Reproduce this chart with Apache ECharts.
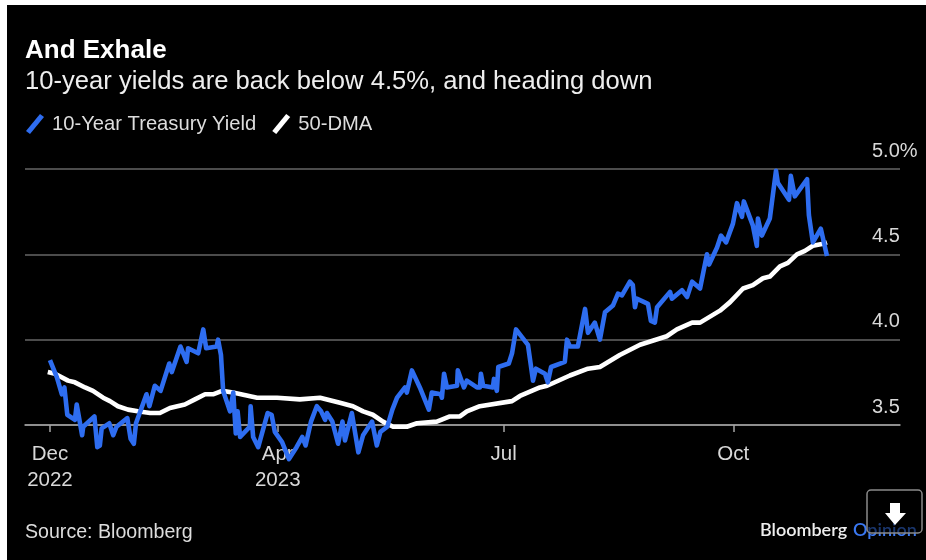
<!DOCTYPE html>
<html>
<head>
<meta charset="utf-8">
<style>html,body{margin:0;padding:0;background:#fff}#chart{width:926px;height:560px}</style>
<script src="https://cdn.jsdelivr.net/npm/echarts@6/dist/echarts.min.js"></script>
</head>
<body>
<div id="chart"></div>
<script>
// Trading-day position along the time axis, and the yield in percent at that position.
const yieldDays = [0,1.9,3.3,4,4.8,6.9,7.4,8.9,9.2,12.3,13.1,13.8,14.3,16.4,17.5,18.4,21.4,22.3,23.2,23.8,26.7,27.5,29,30.6,33,33.7,36.1,37.8,38.2,41,42.4,43.2,46.1,46.5,47.3,47.9,49.8,50.7,51.4,51.9,52.6,55.3,55.5,56.2,57.6,60.2,61.3,62.2,64.2,66.1,68.2,69.8,70.7,72.2,73.8,75,75.5,76.1,76.6,78.1,79.7,80.9,81.6,83.5,85.3,86.6,89.1,90.4,91.4,93.3,94.7,96,98.2,98.7,100.1,102.3,104.8,105.6,108.1,108.4,109,109.8,112.6,112.8,114.5,115.3,118.1,118.9,119.2,119.8,122.5,122.8,123.6,124,126.9,127.8,128.9,129.4,132.2,133.6,134.4,136.9,137.7,138.6,142.4,143,143.8,146,148,148.8,150.7,152.1,153.5,155.7,157.1,158.2,160.4,161.2,161.8,162.3,165.4,166.2,167.3,167.9,171.5,172,174.8,176.2,177.6,179.8,181.7,182.3,184.5,185,185.6,187,188.9,190,191.4,191.9,194.4,195.5,195.8,196.9,199.1,200.8,201.3,204.4,204.9,206,209.4,209.9,211,213.2,214.9];
const yieldValues = [3.88,3.78,3.68,3.72,3.56,3.53,3.62,3.44,3.49,3.55,3.37,3.38,3.48,3.51,3.44,3.49,3.54,3.42,3.39,3.51,3.68,3.61,3.73,3.7,3.86,3.81,3.96,3.87,3.95,3.92,4.06,3.95,3.96,4,3.91,3.7,3.58,3.69,3.45,3.58,3.43,3.49,3.61,3.43,3.37,3.57,3.56,3.46,3.4,3.3,3.37,3.43,3.38,3.52,3.61,3.58,3.59,3.53,3.57,3.52,3.39,3.52,3.41,3.57,3.34,3.44,3.52,3.38,3.46,3.49,3.59,3.66,3.72,3.69,3.82,3.72,3.59,3.69,3.68,3.66,3.8,3.72,3.73,3.82,3.72,3.76,3.72,3.72,3.8,3.73,3.72,3.77,3.7,3.84,3.86,3.92,4.06,4.07,3.97,3.76,3.83,3.8,3.75,3.84,3.87,4,3.96,3.96,4.18,4.04,4.1,4,4.16,4.2,4.27,4.26,4.34,4.32,4.19,4.24,4.21,4.11,4.1,4.19,4.28,4.24,4.29,4.25,4.34,4.3,4.5,4.44,4.54,4.54,4.61,4.57,4.68,4.8,4.72,4.81,4.67,4.55,4.71,4.61,4.71,4.99,4.92,4.82,4.96,4.84,4.94,4.73,4.57,4.65,4.49];

// The 50-day moving average on the same time axis.
const dmaDays = [-0.6,1.4,5,6.9,9.7,11.9,14.7,16.6,18.8,21.6,24.3,27.7,30.4,33.2,37.3,40.1,42.9,45.1,47.6,50.6,57.3,62.8,69.1,74.7,80.2,83.8,86.6,89.3,92.1,94.9,98.7,101.5,107,110.6,113.4,115.3,118.9,127.8,130,135.5,137.5,143.8,148.8,152.1,157.6,163.2,170.6,173.4,177.6,179.8,185.3,188.1,191.7,194.4,197.2,199.1,201.9,204.1,206.6,208.8,211,213.5,214.9];
const dmaValues = [3.81,3.8,3.76,3.75,3.72,3.7,3.66,3.64,3.61,3.59,3.58,3.57,3.57,3.6,3.62,3.65,3.68,3.68,3.7,3.69,3.66,3.66,3.65,3.66,3.63,3.61,3.58,3.56,3.52,3.49,3.49,3.51,3.52,3.55,3.55,3.58,3.61,3.64,3.67,3.72,3.73,3.79,3.83,3.84,3.91,3.97,4.02,4.06,4.1,4.1,4.17,4.22,4.3,4.32,4.36,4.37,4.43,4.45,4.5,4.52,4.55,4.56,4.57];

const tickDays = [0, 63, 125.5, 189];
const tickLabels = ['Dec\n2022', 'Apr\n2023', 'Jul', 'Oct'];

const zip = (xs, ys) => xs.map((x, i) => [x, ys[i]]);
const SANS = '"Liberation Sans", Arial, sans-serif';
const BLUE = '#2e6df0';
const slash = 'path://M0 17 L14 0 L18 3 L4 20 Z';

const chart = echarts.init(document.getElementById('chart'), null, {renderer: 'canvas'});
chart.setOption({
  animation: false,
  backgroundColor: '#fff',
  title: {
    text: 'And Exhale',
    subtext: '10-year yields are back below 4.5%, and heading down',
    left: 25, top: 38, padding: 0, itemGap: 5,
    textStyle: {fontFamily: SANS, fontSize: 26, fontWeight: 'bold', color: '#fff'},
    subtextStyle: {fontFamily: SANS, fontSize: 25.6, color: '#eee'}
  },
  legend: {
    left: 26, top: 114, padding: 0, itemWidth: 18, itemHeight: 20, itemGap: 16,
    textStyle: {fontFamily: SANS, fontSize: 20.2, color: '#ddd', padding: [0, 0, 0, 3]},
    data: [
      {name: '10-Year Treasury Yield', icon: slash},
      {name: '50-DMA', icon: slash}
    ]
  },
  grid: {left: 25, right: 26, top: 169, bottom: 135},
  xAxis: {
    type: 'value', min: -6.9, max: 235.1, splitLine: {show: false},
    axisLine: {onZero: false, lineStyle: {color: '#a5a5a5', width: 1.5}},
    axisTick: {customValues: tickDays, length: 7, lineStyle: {color: '#a5a5a5', width: 1.5}},
    axisLabel: {
      customValues: tickDays, margin: 16, lineHeight: 26,
      fontFamily: SANS, fontSize: 20.5, color: '#d8d8d8',
      formatter: v => tickLabels[tickDays.indexOf(v)]
    }
  },
  yAxis: {
    type: 'value', position: 'right', min: 3.5, max: 5, interval: 0.5,
    axisLine: {show: false}, axisTick: {show: false},
    splitLine: {lineStyle: {color: '#666', width: 1.5}},
    axisLabel: {
      inside: true, margin: 28, align: 'left', verticalAlign: 'bottom', padding: [0, 0, 8, 0],
      fontFamily: SANS, fontSize: 20, color: '#d8d8d8',
      formatter: v => v === 5 ? '5.0%' : v.toFixed(1)
    }
  },
  series: [
    {
      name: '10-Year Treasury Yield', type: 'line', z: 4, clip: false, showSymbol: false,
      data: zip(yieldDays, yieldValues),
      itemStyle: {color: BLUE}, lineStyle: {color: BLUE, width: 4.6, join: 'round'}
    },
    {
      name: '50-DMA', type: 'line', z: 3, clip: false, showSymbol: false,
      data: zip(dmaDays, dmaValues),
      itemStyle: {color: '#fff'}, lineStyle: {color: '#fff', width: 4.6, join: 'round'}
    }
  ],
  graphic: [
    {type: 'rect', z: -10, silent: true, shape: {x: 7, y: 5, width: 919, height: 555}, style: {fill: '#000'}},
    {type: 'text', x: 25, y: 523, style: {text: 'Source: Bloomberg', fill: '#ddd', font: '19.6px ' + SANS}},
    {type: 'text', x: 760, y: 521, style: {text: 'Bloomberg', fill: '#eee', font: '600 18px Lato, sans-serif'}},
    {type: 'text', x: 853, y: 521, style: {text: 'Opinion', fill: '#3a78f2', font: '600 18px Lato, sans-serif'}},
    {type: 'rect', z: 10, shape: {x: 867, y: 490, width: 55, height: 43, r: 4},
     style: {fill: 'rgba(0,0,0,0.55)', stroke: '#8a8a8a', lineWidth: 1.5}},
    {type: 'polygon', z: 11, shape: {points: [[890, 503], [900, 503], [900, 513], [906, 513], [895, 525], [885, 513], [890, 513]]},
     style: {fill: '#fff'}}
  ]
});
</script>
</body>
</html>
